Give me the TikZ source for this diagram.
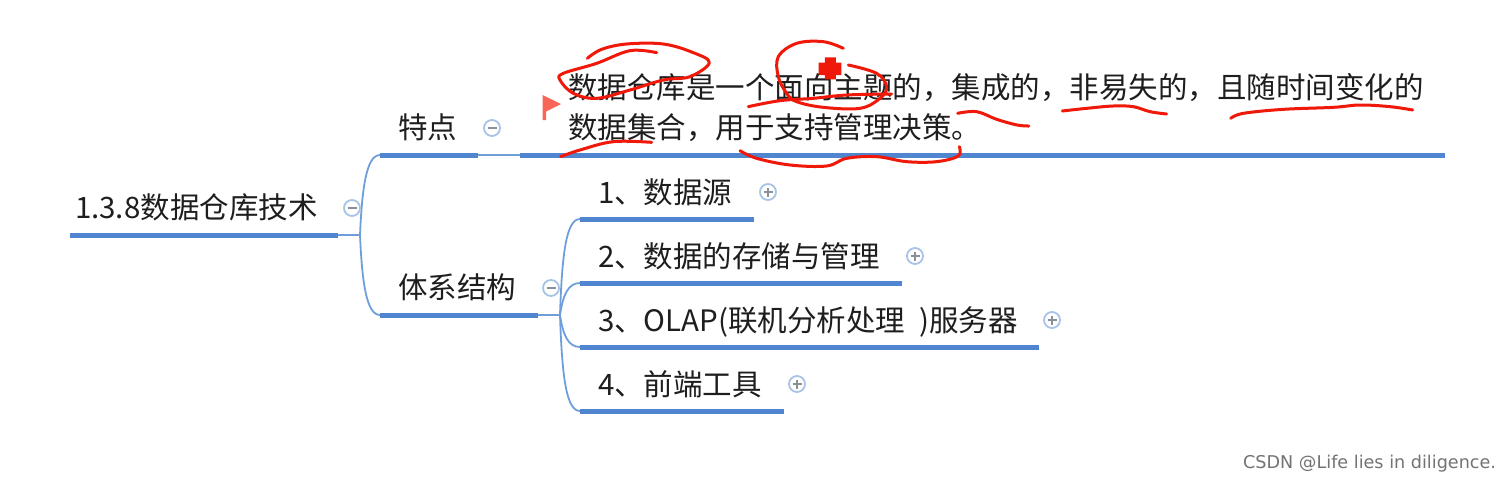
\documentclass[tikz,border=0pt]{standalone}
\usepackage{fontspec}
\setmainfont{Noto Sans CJK SC}
\newfontfamily\wmfont{DejaVu Sans}
\definecolor{barblue}{HTML}{4F86CF}
\definecolor{thinblue}{HTML}{6F9FDB}
\definecolor{iconblue}{HTML}{A9C3E6}
\definecolor{icongray}{HTML}{8A9099}
\definecolor{flagred}{HTML}{F8665A}
\definecolor{inkred}{HTML}{F01808}
\definecolor{textdark}{HTML}{1E1E1E}
\tikzset{
 lbl/.style={anchor=base west,inner sep=0pt,outer sep=0pt,font=\fontsize{29.5}{30}\selectfont,text=textdark},
 bar/.style={draw=barblue,line width=5pt},
 thin/.style={draw=thinblue,line width=1.8pt},
 ink/.style={draw=inkred,line width=3pt,line cap=round,line join=round},
 icon/.style={circle,draw=iconblue,line width=1.8pt,fill=white,minimum size=16pt,inner sep=0pt},
 sgn/.style={draw=icongray,line width=1.5pt},
}
\begin{document}
\begin{tikzpicture}[x=1pt,y=-1pt]
\useasboundingbox[fill=white] (0,0) rectangle (1510,482);
% coordinates
\coordinate (r0) at (70,235); \coordinate (r1) at (338,235); \coordinate (j0) at (360,235);
\coordinate (a0) at (380,155); \coordinate (a1) at (478,155); \coordinate (a2) at (520,155); \coordinate (a3) at (1445,155);
\coordinate (b0) at (380,315); \coordinate (b1) at (538,315); \coordinate (j1) at (560,315);
\coordinate (c1) at (580,219); \coordinate (c1e) at (754,219);
\coordinate (c2) at (580,283); \coordinate (c2e) at (902,283);
\coordinate (c3) at (580,347); \coordinate (c3e) at (1039,347);
\coordinate (c4) at (580,411); \coordinate (c4e) at (784,411);
% thin connectors
\draw[thin] (r1) -- (j0);
\draw[thin] (j0) .. controls (362,190) and (366,155) .. (a0);
\draw[thin] (j0) .. controls (362,280) and (366,315) .. (b0);
\draw[thin] (a1) -- (a2);
\draw[thin] (b1) -- (j1);
\draw[thin] (j1) .. controls (562,255) and (566,219) .. (c1);
\draw[thin] (j1) .. controls (563,295) and (568,283) .. (c2);
\draw[thin] (j1) .. controls (563,335) and (568,347) .. (c3);
\draw[thin] (j1) .. controls (562,375) and (566,411) .. (c4);
% bars
\draw[bar] (r0) -- (r1);
\draw[bar] (a0) -- (a1);
\draw[bar] (a2) -- (a3);
\draw[bar] (b0) -- (b1);
\draw[bar] (c1) -- (c1e);
\draw[bar] (c2) -- (c2e);
\draw[bar] (c3) -- (c3e);
\draw[bar] (c4) -- (c4e);
% labels
\node[lbl] (root) at (75,218) {1.3.8数据仓库技术};
\node[lbl] (tedian) at (398,138) {特点};
\node[lbl] (tixi) at (398,298) {体系结构};
\node[lbl] (line1) at (568,98.5) {数据仓库是一个面向主题的，集成的，非易失的，且随时间变化的};
\node[lbl] (line2) at (568,138) {数据集合，用于支持管理决策。};
\node[lbl] (k1) at (598,203) {1、数据源};
\node[lbl] (k2) at (598,267) {2、数据的存储与管理};
\node[lbl] (k3) at (598,331) {3、OLAP(联机分析处理\hspace{7pt} )服务器};
\node[lbl] (k4) at (598,395) {4、前端工具};
% icons
\foreach \n/\px/\py in {m1/352/208,m2/492/128,m3/551/288}{
 \node[icon] (\n) at (\px,\py) {};
 \draw[sgn] ([xshift=-4.5pt]\n.center) -- ([xshift=4.5pt]\n.center);
}
\foreach \n/\px/\py in {p1/768/192,p2/915/256,p3/1052/320,p4/797/384}{
 \node[icon] (\n) at (\px,\py) {};
 \draw[sgn] ([xshift=-4.5pt]\n.center) -- ([xshift=4.5pt]\n.center);
 \draw[sgn] ([yshift=-4.5pt]\n.center) -- ([yshift=4.5pt]\n.center);
}
% flag
\fill[flagred] (542.5,95) -- (561,104) -- (546,111.5) -- (546,120) -- (542.5,120) -- cycle;
% ink, in zoomed coordinates
\begin{scope}[x=.33333pt,y=-.33333pt,shift={(1590,90)}]
\draw[ink] plot[smooth,tension=.6] coordinates {(172,85)(215,58)(290,42)(400,42)(490,68)(538,98)(480,140)(400,150)(300,180)(200,205)(130,190)(90,150)(100,130)(200,100)(300,62)(380,68)};
\draw[ink] plot[smooth,tension=.6] coordinates {(940,55)(880,35)(800,40)(745,80)(745,140)(770,190)(800,215)(880,232)(990,235)(1050,205)(1070,170)(1040,130)(955,105)};
\draw[ink] plot[smooth,tension=.6] coordinates {(655,230)(750,212)(850,205)(950,195)(1085,192)};
\draw[ink] plot[smooth,tension=.6] coordinates {(92,380)(150,360)(250,335)(365,337)};
\draw[ink] plot[smooth,tension=.6] coordinates {(630,362)(680,385)(780,405)(890,408)(950,385)(1040,380)(1130,395)(1220,395)(1285,378)(1288,350)};
\draw[ink] plot[smooth,tension=.6] coordinates {(1283,250)(1340,245)(1400,268)(1461,285)(1497,288)};
\draw[ink] plot[smooth,tension=.6] coordinates {(1597,243)(1670,235)(1750,228)(1810,230)(1860,245)(1910,252)};
\draw[ink] plot[smooth,tension=.6] coordinates {(2102,265)(2140,250)(2260,238)(2410,232)(2490,225)(2580,230)(2648,240)};
\fill[inkred] (885,82) -- (918,82) -- (918,98) -- (934,98) -- (934,135) -- (918,135) -- (918,148) -- (885,148) -- (885,135) -- (866,135) -- (866,98) -- (885,98) -- cycle;
\end{scope}
% watermark
\node[anchor=base west,inner sep=0pt,text=black!55,font=\wmfont\fontsize{17.6}{20}\selectfont] (wm) at (1243,468) {CSDN @Life lies in diligence.};
\end{tikzpicture}
\end{document}
